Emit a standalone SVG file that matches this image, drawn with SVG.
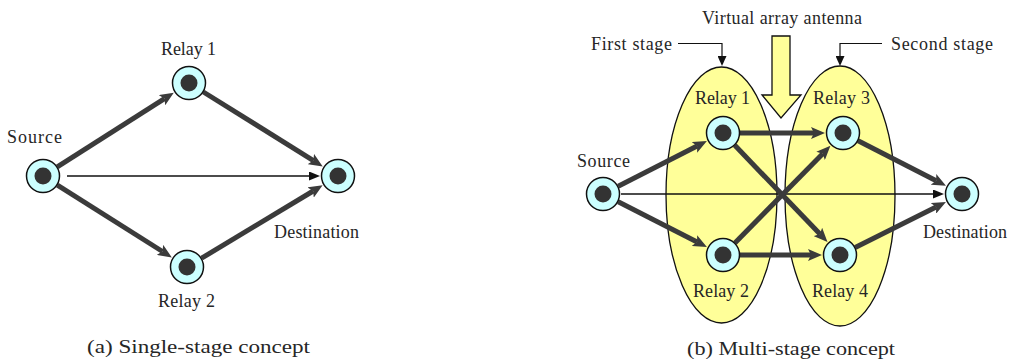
<svg xmlns="http://www.w3.org/2000/svg" width="1010" height="361" viewBox="0 0 1010 361">
  <style>
    text { font-family: "Liberation Serif", "DejaVu Serif", serif; font-size: 18px; fill: #262626; }
    .cap { font-size: 19px; }
    .ring { fill: #ccffff; stroke: #111; stroke-width: 1.5; }
    .core { fill: #333333; }
    .thick { fill: none; stroke: #3b3b3b; stroke-width: 5; }
    .thin { fill: none; stroke: #111; stroke-width: 1.5; }
    .lead { fill: none; stroke: #111; stroke-width: 1.2; }
    .stage { fill: #ffff99; stroke: #111; stroke-width: 1.3; }
  </style>
  <defs>
    <marker id="headThick" viewBox="0 0 14 12" refX="3" refY="6" markerWidth="14" markerHeight="12" markerUnits="userSpaceOnUse" orient="auto">
      <path d="M0,0 L14,6 L0,12 L3,6 z" fill="#3b3b3b"/>
    </marker>
    <marker id="headThin" viewBox="0 0 11 9" refX="0" refY="4.5" markerWidth="11" markerHeight="9" markerUnits="userSpaceOnUse" orient="auto">
      <path d="M0,0 L11,4.5 L0,9 z" fill="#111"/>
    </marker>
    <marker id="headLead" viewBox="0 0 9 10" refX="4.5" refY="0" markerWidth="9" markerHeight="10" markerUnits="userSpaceOnUse" orient="0">
      <path d="M0,0 L9,0 L4.5,10 z" fill="#111"/>
    </marker>
    <g id="node">
      <circle class="ring" r="16.5"/>
      <circle class="core" r="8.5"/>
    </g>
  </defs>

  <!-- (a) single-stage relaying -->
  <g id="connectors-a">
    <path class="thin" d="M67,176 L309,176" marker-end="url(#headThin)"/>
    <path class="thick" d="M57.3,166.9 L164.5,98.6" marker-end="url(#headThick)"/>
    <path class="thick" d="M203.4,92 L313.4,160.6" marker-end="url(#headThick)"/>
    <path class="thick" d="M57.4,185.1 L162.5,251.5" marker-end="url(#headThick)"/>
    <path class="thick" d="M201.6,258.2 L313.2,191" marker-end="url(#headThick)"/>
  </g>
  <g id="a-source"><use href="#node" x="43" y="176"/><text x="7" y="143" textLength="55">Source</text></g>
  <g id="a-relay1"><use href="#node" x="189" y="83"/><text x="161" y="55" textLength="55">Relay 1</text></g>
  <g id="a-relay2"><use href="#node" x="187" y="267"/><text x="158" y="307" textLength="57">Relay 2</text></g>
  <g id="a-destination"><use href="#node" x="338" y="176"/><text x="274" y="238" textLength="85">Destination</text></g>
  <text class="cap" x="87" y="353" textLength="223" lengthAdjust="spacingAndGlyphs">(a) Single-stage concept</text>

  <!-- (b) multi-stage relaying -->
  <g id="stage1"><ellipse class="stage" cx="721.5" cy="195" rx="55.5" ry="128"/></g>
  <g id="stage2"><ellipse class="stage" cx="840" cy="196" rx="55" ry="130"/></g>
  <g id="virtual-array">
    <path class="stage" d="M772,36 L790,36 L790,95 L801,95 L781,118 L762,95 L772,95 z"/>
    <text x="702" y="24" textLength="160">Virtual array antenna</text>
  </g>
  <g id="stage-labels">
    <path class="lead" d="M678,43.5 L722,43.5 L722,56" marker-end="url(#headLead)"/>
    <text x="591" y="50" textLength="81">First stage</text>
    <path class="lead" d="M882,43.5 L840,43.5 L840,56" marker-end="url(#headLead)"/>
    <text x="891" y="50" textLength="102">Second stage</text>
  </g>
  <g id="connectors-b">
    <path class="thin" d="M621,194 L933,194" marker-end="url(#headThin)"/>
    <path class="thick" d="M618.2,186.3 L697.1,146.1" marker-end="url(#headThick)"/>
    <path class="thick" d="M618.2,201.7 L697.1,241.9" marker-end="url(#headThick)"/>
    <path class="thick" d="M740,133 L814,133" marker-end="url(#headThick)"/>
    <path class="thick" d="M740,255 L811,255" marker-end="url(#headThick)"/>
    <path class="thick" d="M734.8,145.3 L819.9,234.1" marker-end="url(#headThick)"/>
    <path class="thick" d="M734.9,242.9 L822.7,153.7" marker-end="url(#headThick)"/>
    <path class="thick" d="M858.1,140.8 L936.2,180.8" marker-end="url(#headThick)"/>
    <path class="thick" d="M855.2,247.4 L936.1,207" marker-end="url(#headThick)"/>
  </g>
  <g id="b-source"><use href="#node" x="603" y="194"/><text x="577" y="167" textLength="53">Source</text></g>
  <g id="b-relay1"><use href="#node" x="723" y="133"/><text x="695" y="104" textLength="55">Relay 1</text></g>
  <g id="b-relay3"><use href="#node" x="843" y="133"/><text x="813" y="104" textLength="57">Relay 3</text></g>
  <g id="b-relay2"><use href="#node" x="723" y="255"/><text x="693" y="297" textLength="56">Relay 2</text></g>
  <g id="b-relay4"><use href="#node" x="840" y="255"/><text x="812" y="297" textLength="56">Relay 4</text></g>
  <g id="b-destination"><use href="#node" x="962" y="194"/><text x="923" y="238" textLength="84">Destination</text></g>
  <text class="cap" x="687" y="355" textLength="208" lengthAdjust="spacingAndGlyphs">(b) Multi-stage concept</text>
</svg>
